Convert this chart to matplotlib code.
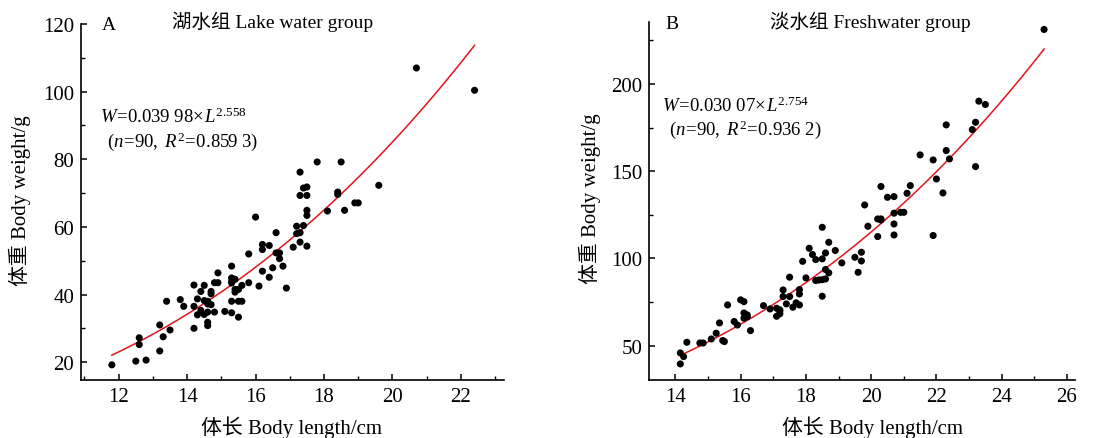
import numpy as np
import matplotlib
matplotlib.use("Agg")
import matplotlib.pyplot as plt
from matplotlib.ticker import MultipleLocator

# ── Datos ────────────────────────────────────────────────────────────────
lake_len = [11.8, 12.5, 12.6, 12.6, 12.8, 13.2, 13.2, 13.3, 13.4, 13.5,
            13.8, 13.9, 14.2, 14.2, 14.2, 14.3, 14.3, 14.4, 14.4, 14.5,
            14.5, 14.5, 14.6, 14.6, 14.6, 14.6, 14.7, 14.7, 14.7, 14.8,
            14.8, 14.9, 14.9, 15.1, 15.3, 15.3, 15.3, 15.3, 15.3, 15.4,
            15.4, 15.4, 15.5, 15.5, 15.5, 15.6, 15.6, 15.8, 15.8, 16.0,
            16.1, 16.2, 16.2, 16.2, 16.4, 16.4, 16.5, 16.6, 16.6, 16.7,
            16.7, 16.8, 16.9, 17.1, 17.2, 17.2, 17.3, 17.3, 17.3, 17.3,
            17.4, 17.4, 17.5, 17.5, 17.5, 17.5, 17.5, 17.8, 18.1, 18.4,
            18.4, 18.5, 18.6, 18.9, 19.0, 19.6, 20.7, 22.4, 15.3, 14.6]
lake_wt = [19.2, 20.3, 27.2, 25.2, 20.6, 31.0, 23.3, 27.5, 38.0, 29.5,
           38.5, 36.5, 42.8, 36.5, 30.0, 38.7, 34.0, 40.9, 35.3, 42.7,
           38.2, 34.1, 37.2, 34.8, 31.8, 30.8, 40.9, 40.2, 37.0, 43.5,
           34.8, 43.5, 46.4, 35.0, 48.4, 44.9, 43.9, 38.0, 34.6, 44.5,
           41.5, 40.7, 41.5, 33.3, 38.0, 42.7, 38.0, 52.0, 43.5, 62.9,
           42.5, 54.8, 53.3, 46.9, 54.5, 45.1, 47.9, 58.3, 52.3, 52.3,
           50.6, 48.4, 41.9, 54.0, 60.2, 58.0, 76.2, 69.3, 58.3, 55.5,
           71.5, 60.4, 71.8, 69.3, 64.9, 63.4, 54.3, 79.2, 64.7, 70.3,
           69.6, 79.2, 64.9, 67.1, 67.1, 72.3, 107.0, 100.4, 43.4, 38.0]

fresh_len = [14.15, 14.15, 14.25, 14.35, 14.75, 14.85, 15.1, 15.25, 15.35, 15.45,
             15.5, 15.6, 15.8, 15.9, 16.0, 16.1, 16.1, 16.1, 16.2, 16.3,
             16.7, 16.9, 17.1, 17.1, 17.2, 17.2, 17.3, 17.3, 17.4, 17.5,
             17.5, 17.6, 17.7, 17.8, 17.8, 17.8, 17.9, 18.0, 18.1, 18.2,
             18.3, 18.3, 18.4, 18.5, 18.5, 18.5, 18.5, 18.6, 18.6, 18.7,
             18.7, 18.9, 19.1, 19.5, 19.6, 19.7, 19.7, 19.8, 19.9, 20.2,
             20.2, 20.3, 20.3, 20.5, 20.7, 20.7, 20.7, 20.7, 20.9, 21.0,
             21.1, 21.2, 21.5, 21.9, 21.9, 22.0, 22.2, 22.3, 22.3, 22.4,
             23.1, 23.2, 23.2, 23.3, 23.5, 25.3, 17.2, 16.2, 18.6, 20.3]
fresh_wt = [45.8, 39.5, 43.7, 51.9, 51.5, 51.5, 53.8, 57.1, 63.0, 52.9,
            52.3, 73.3, 63.8, 61.8, 76.2, 75.2, 68.7, 65.7, 67.6, 58.6,
            72.9, 71.0, 71.4, 66.8, 69.7, 68.2, 81.9, 78.1, 73.9, 89.2,
            78.1, 72.0, 74.5, 82.1, 79.6, 73.3, 98.3, 88.8, 105.8, 102.2,
            99.3, 87.3, 87.6, 117.8, 99.7, 87.8, 78.3, 103.1, 93.6, 109.2,
            91.7, 104.5, 97.4, 100.6, 92.0, 103.5, 98.5, 130.6, 118.4, 122.6,
            112.5, 122.6, 141.2, 135.0, 135.4, 125.9, 119.7, 113.4, 126.4, 126.4,
            137.3, 141.7, 159.3, 156.4, 113.1, 145.5, 137.5, 176.5, 161.8, 157.0,
            173.8, 178.0, 152.6, 190.1, 188.2, 231.2, 70.5, 66.5, 88.2, 122.0]

# ── Ajustes W = a·L^b ────────────────────────────────────────────────────
lake_a, lake_b, lake_rng = 0.03998, 2.558, (11.8, 22.4)
fresh_a, fresh_b, fresh_rng = 0.03007, 2.754, (14.2, 25.3)

# ── Estilo ───────────────────────────────────────────────────────────────
FAM = ["Liberation Serif", "Noto Sans CJK SC"]
plt.rcParams.update({
    "font.family": FAM,
    "font.size": 14,
    "mathtext.fontset": "custom",
    "mathtext.rm": "Liberation Serif",
    "mathtext.it": "Liberation Serif:italic",
    "mathtext.bf": "Liberation Serif:bold",
    "axes.linewidth": 1.2,
    "xtick.direction": "in",
    "ytick.direction": "in",
    "xtick.major.size": 4.5,
    "ytick.major.size": 4.5,
    "xtick.minor.size": 3,
    "ytick.minor.size": 3,
    "xtick.major.width": 1.1,
    "ytick.major.width": 1.1,
    "xtick.minor.width": 1.0,
    "ytick.minor.width": 1.0,
})
RED = "#E3141C"

fig = plt.figure(figsize=(11.18, 4.39), dpi=100)
ax1 = fig.add_axes([0.0725, 0.132, 0.378, 0.811])
ax2 = fig.add_axes([0.5808, 0.133, 0.3808, 0.8155])


def panel(ax, L, W, a, b, rng, xlim, ylim, ymaj, ymin, letter, title,
          eq1, eq2, pos_title, pos_letter, pos_eq1, pos_eq2, xlab_x, ylab_x):
    ax.scatter(L, W, s=26, color="black", edgecolors="none", zorder=3)
    xs = np.linspace(rng[0], rng[1], 200)
    ax.plot(xs, a * xs ** b, color=RED, lw=1.1, zorder=2)
    ax.set_xlim(*xlim)
    ax.set_ylim(*ylim)
    ax.xaxis.set_major_locator(MultipleLocator(2))
    ax.xaxis.set_minor_locator(MultipleLocator(1))
    ax.yaxis.set_major_locator(MultipleLocator(ymaj))
    ax.yaxis.set_minor_locator(MultipleLocator(ymin))
    for s in ("top", "right"):
        ax.spines[s].set_visible(False)
    ax.tick_params(labelsize=15, pad=5)
    ax.set_xlabel("体长 Body length/cm", fontsize=15, va="center")
    ax.set_ylabel("体重 Body weight/g", fontsize=15, va="center")
    ax.xaxis.set_label_coords(xlab_x, -0.131)
    ax.yaxis.set_label_coords(ylab_x, 0.507)
    ax.text(*pos_title, title, transform=ax.transAxes, ha="center",
            va="center", fontsize=14)
    ax.text(*pos_letter, letter, transform=ax.transAxes, ha="center",
            va="center", fontsize=14)
    ax.text(*pos_eq1, eq1, transform=ax.transAxes, ha="left", va="center",
            fontsize=13.5)
    ax.text(*pos_eq2, eq2, transform=ax.transAxes, ha="left", va="center",
            fontsize=13.5)


panel(ax1, lake_len, lake_wt, lake_a, lake_b, lake_rng,
      (10.9, 23.25), (14.7, 120), 20, 10, "A", "湖水组 Lake water group",
      r"$W\!=\!0.039\ 98\!\times\! L^{2.558}$",
      r"$(n\!=\!90,\ R^{2}\!=\!0.859\ 3)$",
      (0.454, 1.01), (0.066, 1.0), (0.045, 0.742), (0.062, 0.672),
      0.499, -0.144)

panel(ax2, fresh_len, fresh_wt, fresh_a, fresh_b, fresh_rng,
      (13.2, 26.25), (30.5, 235.7), 50, 25, "B", "淡水组 Freshwater group",
      r"$W\!=\!0.030\ 07\!\times\! L^{2.754}$",
      r"$(n\!=\!90,\ R^{2}\!=\!0.936\ 2)$",
      (0.52, 1.003), (0.053, 0.994), (0.029, 0.767), (0.047, 0.700),
      0.525, -0.139)

fig.savefig("out.png", dpi=100, facecolor="white")
